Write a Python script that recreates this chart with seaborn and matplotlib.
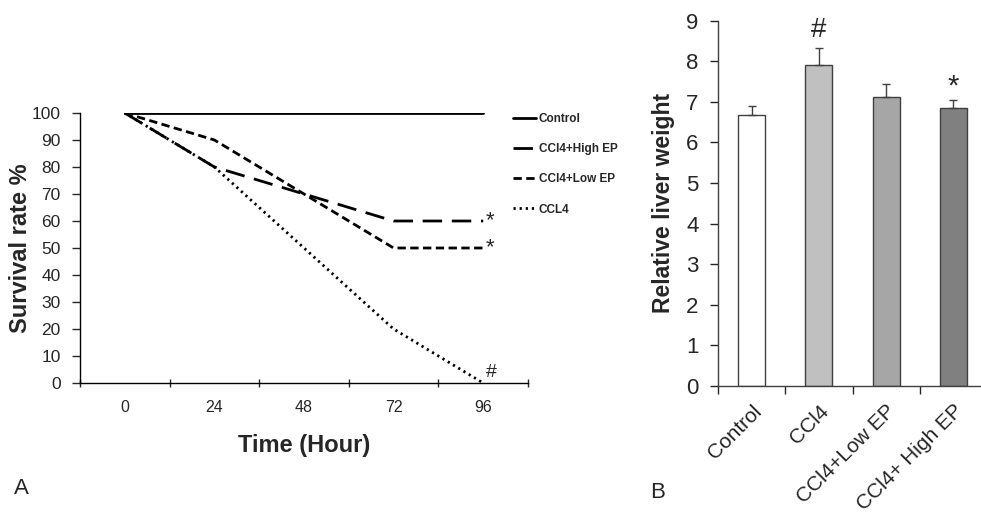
import matplotlib
matplotlib.use("Agg")
import matplotlib.pyplot as plt
import seaborn as sns
import pandas as pd
import numpy as np

sns.set_style("white")
plt.rcParams['font.family'] = ['Liberation Sans', 'DejaVu Sans']

# ---- data ----
time_labels = ["0", "24", "48", "72", "96"]
control = [100, 100, 100, 100, 100]
high_ep = [100, 80, 70, 60, 60]
low_ep = [100, 90, 70, 50, 50]
ccl4 = [100, 80, 50, 20, 0]
series_names = ["Control", "CCl4+High EP", "CCl4+Low EP", "CCL4"]

groups = ["Control", "CCl4", "CCl4+Low EP", "CCl4+ High EP"]
liver_weight = [6.68, 7.90, 7.13, 6.84]
liver_err = [0.22, 0.42, 0.30, 0.20]
bar_colors = ["#ffffff", "#c0c0c0", "#a6a6a6", "#808080"]

rows = []
for name, vals in zip(series_names, [control, high_ep, low_ep, ccl4]):
    for i, v in enumerate(vals):
        rows.append({"pos": i, "value": v, "series": name})
df = pd.DataFrame(rows)

fig = plt.figure(figsize=(9.81, 5.24), dpi=100)

# ---- panel A ----
axA = fig.add_axes([80/981, 1-383/524, 448/981, (383-113)/524])
dashes = {"Control": "",
          "CCl4+High EP": (7, 3.5),
          "CCl4+Low EP": (3, 1.6),
          "CCL4": (0.8, 1.4)}
sns.lineplot(data=df, x="pos", y="value", hue="series", style="series",
             palette={n: "black" for n in series_names}, dashes=dashes,
             linewidth=2, ax=axA, legend=True, hue_order=series_names,
             style_order=series_names)
axA.set_xlim(-0.5, 4.5)
axA.set_ylim(0, 100)
axA.set_yticks(range(0, 101, 10))
axA.tick_params(axis='y', labelsize=12.5, length=6, width=1, direction='out', left=True, pad=8)
axA.set_xticks(np.arange(-0.5, 4.6, 1))
axA.set_xticklabels([])
axA.set_xticks(range(5), minor=True)
axA.set_xticklabels(time_labels, minor=True)
axA.tick_params(axis='x', which='major', length=6, width=1, direction='inout', bottom=True)
axA.tick_params(axis='x', which='minor', length=0, labelsize=11.5, pad=12)
for s in ["top", "right"]:
    axA.spines[s].set_visible(False)
for s in ["left", "bottom"]:
    axA.spines[s].set_color("black")
    axA.spines[s].set_linewidth(1)
axA.set_ylabel("Survival rate %", fontsize=17, fontweight="bold", labelpad=0)
axA.set_xlabel("Time (Hour)", fontsize=17, fontweight="bold", labelpad=14)
handles, labels = axA.get_legend_handles_labels()
leg = axA.legend(handles, labels, loc="upper left", bbox_to_anchor=(508/981, 1-108/524),
                 bbox_transform=fig.transFigure, frameon=False,
                 prop={"size": 8.5, "weight": "bold"}, handlelength=2.0,
                 handletextpad=0.2, labelspacing=1.55, borderaxespad=0)
axA.text(4.03, 60, "*", fontsize=16, va="center", ha="left")
axA.text(4.03, 50, "*", fontsize=16, va="center", ha="left")
axA.text(4.03, 4, "#", fontsize=14, va="center", ha="left")
fig.text(14/981, 1-488/524, "A", fontsize=16, va="center", ha="left")

# ---- panel B ----
axB = fig.add_axes([718/981, 1-386/524, 269/981, (386-20.7)/524])
bdf = pd.DataFrame({"group": groups, "weight": liver_weight})
sns.barplot(data=bdf, x="group", y="weight", hue="group", palette=bar_colors,
            order=groups, hue_order=groups, width=0.4, edgecolor="#404040",
            linewidth=1, ax=axB, legend=False, errorbar=None)
axB.errorbar(range(len(groups)), liver_weight,
             yerr=[np.zeros(len(liver_err)), liver_err], fmt="none",
             ecolor="#404040", elinewidth=1, capsize=3, capthick=1)
axB.set_xlim(-0.5, 3.5)
axB.set_ylim(0, 9)
axB.set_yticks(range(0, 10))
axB.tick_params(axis='y', labelsize=16, length=6, width=1, direction='out', left=True, pad=8)
axB.set_xticks(np.arange(-0.5, 3.6, 1))
axB.set_xticklabels([])
axB.set_xticks(range(4), minor=True)
axB.set_xticklabels(groups, minor=True, rotation=45, ha="right", rotation_mode="anchor")
axB.tick_params(axis='x', which='major', length=6, width=1, direction='out', bottom=True)
axB.tick_params(axis='x', which='minor', length=0, labelsize=15, pad=11)
for s in ["top", "right"]:
    axB.spines[s].set_visible(False)
for s in ["left", "bottom"]:
    axB.spines[s].set_color("#404040")
    axB.spines[s].set_linewidth(1)
axB.set_xlabel("")
axB.set_ylabel("Relative liver weight", fontsize=16.5, fontweight="bold", labelpad=8)
axB.text(1, 8.78, "#", fontsize=20, ha="center", va="center")
axB.text(3, 7.38, "*", fontsize=21, ha="center", va="center")
fig.text(650/981, 1-492/524, "B", fontsize=16, va="center", ha="left")

fig.savefig("out.png", dpi=100)
